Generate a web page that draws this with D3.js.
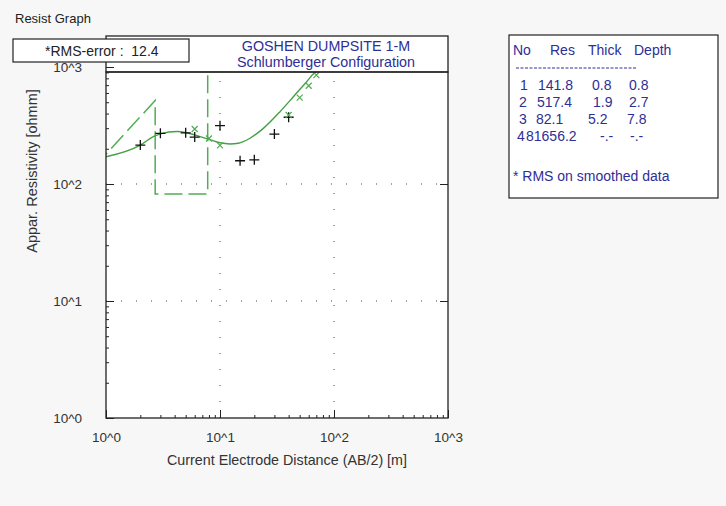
<!DOCTYPE html>
<html><head><meta charset="utf-8">
<script src="https://cdn.jsdelivr.net/npm/d3@7"></script>
<style>
html,body{margin:0;padding:0;background:#f7f7f7;}
svg{display:block;font-family:"Liberation Sans",Arial,sans-serif;}
</style></head><body>
<svg id="c" width="726" height="506"></svg>
<script>
// ---- data ----
const xTickValues = [1, 10, 100, 1000];
const xTickLabels = ["10^0", "10^1", "10^2", "10^3"];
const yTickValues = [1, 10, 100, 1000];
const yTickLabels = ["10^0", "10^1", "10^2", "10^3"];

// measured field data (AB/2, apparent resistivity)
const measuredAB  = [2, 3, 5, 6, 10, 15, 20, 30, 40];
const measuredRho = [215, 271, 274, 252, 315, 158, 161, 267, 372];

// smoothed data points (green x)
const smoothAB  = [6, 8, 10, 40, 50, 60, 70];
const smoothRho = [295, 245, 214, 389, 547, 692, 853];

// model response curve
const curveAB  = [1, 2, 2.6, 3, 4.2, 5.1, 6.7, 8, 10, 12.2, 14.5, 18.3, 24, 33.6, 44, 57.6, 66.8, 72];
const curveRho = [171, 215, 254, 268, 281, 274, 254, 241, 225, 220, 223, 246, 299, 415, 557, 749, 884, 930];

// layered model
const layerNo    = ["1", "2", "3", "4"];
const layerRes   = [141.8, 517.4, 82.1, 81656.2];
const layerThick = ["0.8", "1.9", "5.2", "-.-"];
const layerDepthLabels = ["0.8", "2.7", "7.8", "-.-"];
const layerDepth = [0.8, 2.7, 7.8];

const titleLines = ["GOSHEN DUMPSITE 1-M", "Schlumberger Configuration"];
const rmsText = "*RMS-error :  12.4";
const tableHeader = ["No", "Res", "Thick", "Depth"];

// ---- layout ----
const L = 106, R = 448, T = 72, B = 418;
const svg = d3.select("#c");
const x = d3.scaleLog().domain([1, 1000]).range([L, R]);
const y = d3.scaleLog().domain([1, 1000]).range([B, 67]);

const green = "#45a045";
const blue = "#2e2e96";

svg.append("text").attr("x", 15).attr("y", 23).attr("font-size", 13).attr("fill", "#222").text("Resist Graph");

// plot background
svg.append("rect").attr("x", L).attr("y", 36).attr("width", R - L).attr("height", B - 36).attr("fill", "#fff");

svg.append("defs").append("clipPath").attr("id", "clip")
  .append("rect").attr("x", L).attr("y", T).attr("width", R - L).attr("height", B - T);

// grid
const g = svg.append("g");
[10, 100].forEach(v => {
  g.append("line").attr("x1", x(v)).attr("x2", x(v)).attr("y1", B).attr("y2", T)
    .attr("stroke", "#444").attr("stroke-width", 1).attr("stroke-dasharray", "1,15");
  g.append("line").attr("x1", L).attr("x2", R).attr("y1", y(v)).attr("y2", y(v))
    .attr("stroke", "#444").attr("stroke-width", 1).attr("stroke-dasharray", "1,14");
});

// minor ticks
const minors = [];
[1, 10, 100].forEach(d => { for (let k = 2; k <= 9; k++) minors.push(d * k); });
const yMinors = minors.filter(v => y(v) >= T);

const axL = svg.append("g").attr("transform", `translate(${L},0)`)
  .call(d3.axisLeft(y).tickValues(yMinors).tickSize(-3).tickFormat(""));
const axB = svg.append("g").attr("transform", `translate(0,${B})`)
  .call(d3.axisBottom(x).tickValues(minors).tickSize(-3).tickFormat(""));
const axLM = svg.append("g").attr("transform", `translate(${L},0)`)
  .call(d3.axisLeft(y).tickValues(yTickValues).tickSize(-8).tickPadding(24)
    .tickFormat((d, i) => yTickLabels[i]));
const axBM = svg.append("g").attr("transform", `translate(0,${B})`)
  .call(d3.axisBottom(x).tickValues(xTickValues).tickSize(-8).tickPadding(14)
    .tickFormat((d, i) => xTickLabels[i]));
const axRM = svg.append("g").attr("transform", `translate(${R},0)`)
  .call(d3.axisRight(y).tickValues([10, 100]).tickSize(-8).tickFormat(""));
[axL, axB, axLM, axBM, axRM].forEach(a => {
  a.select(".domain").remove();
  a.selectAll("line").attr("stroke", "#222");
  a.selectAll("text").attr("font-size", 13.5).attr("fill", "#333")
    .attr("font-family", '"Liberation Sans",Arial,sans-serif');
});

// data layer
const dl = svg.append("g").attr("clip-path", "url(#clip)");

// layered model (dashed)
const modelPts = [
  [layerDepth[0], layerRes[0]],
  [layerDepth[1], layerRes[1]],
  [layerDepth[1], layerRes[2]],
  [layerDepth[2], layerRes[2]],
  [layerDepth[2], layerRes[3]]
];
dl.append("path").attr("d", d3.line().x(d => x(d[0])).y(d => y(d[1]))(modelPts))
  .attr("fill", "none").attr("stroke", "#52ad52").attr("stroke-width", 1.5)
  .attr("stroke-dasharray", "18,6");

// model curve
dl.append("path")
  .attr("d", d3.line().x(d => x(d[0])).y(d => y(d[1])).curve(d3.curveMonotoneX)(curveAB.map((a, i) => [a, curveRho[i]])))
  .attr("fill", "none").attr("stroke", green).attr("stroke-width", 1.4);

// measured +
dl.selectAll(".m").data(measuredAB).enter().append("path")
  .attr("transform", (d, i) => `translate(${x(d)},${y(measuredRho[i])})`)
  .attr("d", "M-5,0H5M0,-5V5").attr("stroke", "#111").attr("stroke-width", 1.3);

// smoothed x
dl.selectAll(".s").data(smoothAB).enter().append("path")
  .attr("transform", (d, i) => `translate(${x(d)},${y(smoothRho[i])})`)
  .attr("d", "M-3,-3L3,3M-3,3L3,-3").attr("stroke", "#52aa52").attr("stroke-width", 1.2);

// frames
svg.append("rect").attr("x", L).attr("y", T).attr("width", R - L).attr("height", B - T)
  .attr("fill", "none").attr("stroke", "#222").attr("stroke-width", 1.3);
svg.append("rect").attr("x", L).attr("y", 36).attr("width", R - L).attr("height", T - 36)
  .attr("fill", "none").attr("stroke", "#222").attr("stroke-width", 1.3);

// title
titleLines.forEach((t, i) => {
  svg.append("text").attr("x", 326).attr("y", 51 + i * 16).attr("text-anchor", "middle")
    .attr("font-size", 14.3).attr("fill", blue).text(t);
});

// RMS box
svg.append("rect").attr("x", 13).attr("y", 39).attr("width", 176).attr("height", 23)
  .attr("fill", "#fff").attr("stroke", "#222").attr("stroke-width", 1.2);
svg.append("text").attr("x", 45).attr("y", 56).attr("font-size", 14).attr("fill", "#222")
  .attr("xml:space", "preserve").style("white-space", "pre").text(rmsText);

// axis titles
svg.append("text").attr("transform", "translate(37,171) rotate(-90)").attr("text-anchor", "middle")
  .attr("font-size", 14.5).attr("fill", "#333").text("Appar. Resistivity [ohmm]");
svg.append("text").attr("x", 287).attr("y", 465).attr("text-anchor", "middle")
  .attr("font-size", 14.3).attr("fill", "#333").text("Current Electrode Distance (AB/2) [m]");

// table
svg.append("rect").attr("x", 509).attr("y", 35).attr("width", 209).attr("height", 163)
  .attr("fill", "#fff").attr("stroke", "#222").attr("stroke-width", 1.2);
const hx = [513, 550, 588, 634];
tableHeader.forEach((h, i) => svg.append("text").attr("x", hx[i]).attr("y", 55)
  .attr("font-size", 14).attr("fill", blue).text(h));
svg.append("line").attr("x1", 516).attr("x2", 637).attr("y1", 68).attr("y2", 68)
  .attr("stroke", blue).attr("stroke-width", 1).attr("stroke-dasharray", "3,1.5");
const rowY = [90, 107, 124, 141];
const colNo = [520, 519, 519, 517];
const colRes = [538, 537, 536, 526];
const colTh = [592, 593, 588, 600];
const colDp = [629, 629, 627, 630];
layerNo.forEach((n, i) => {
  const yy = rowY[i];
  svg.append("text").attr("x", colNo[i]).attr("y", yy).attr("font-size", 14).attr("fill", blue).text(n);
  svg.append("text").attr("x", colRes[i]).attr("y", yy).attr("font-size", 14).attr("fill", blue).text(layerRes[i].toFixed(1));
  svg.append("text").attr("x", colTh[i]).attr("y", yy).attr("font-size", 14).attr("fill", blue).text(layerThick[i]);
  svg.append("text").attr("x", colDp[i]).attr("y", yy).attr("font-size", 14).attr("fill", blue).text(layerDepthLabels[i]);
});
svg.append("text").attr("x", 513).attr("y", 181).attr("font-size", 14).attr("fill", blue).text("* RMS on smoothed data");
</script>
</body></html>
